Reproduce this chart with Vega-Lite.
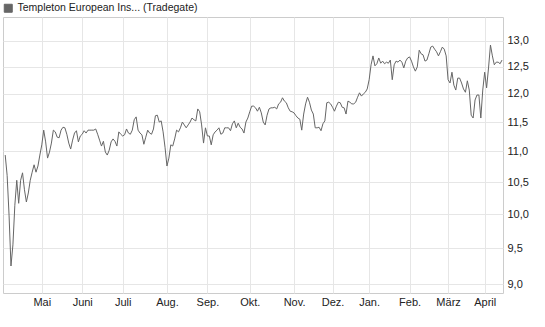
{
  "$schema": "https://vega.github.io/schema/vega-lite/v6.json",
  "autosize": {"type": "none"},
  "padding": {"left": 3, "top": 17, "right": 42, "bottom": 34},
  "width": 500,
  "height": 276,
  "background": "white",
  "config": {
    "font": "Liberation Sans",
    "view": {"stroke": "#cccccc", "strokeWidth": 1},
    "axis": {"domain": false, "ticks": false, "gridColor": "#e6e6e6", "gridWidth": 1, "labelFont": "Liberation Sans", "labelFontSize": 11, "labelColor": "#222222", "title": null}
  },
  "data": {"values": [
    {"d":"2025-04-02","v":10.94},{"d":"2025-04-03","v":10.61},{"d":"2025-04-04","v":9.99},{"d":"2025-04-07","v":9.25},{"d":"2025-04-08","v":9.55},{"d":"2025-04-09","v":10.14},{"d":"2025-04-10","v":10.53},{"d":"2025-04-11","v":10.17},{"d":"2025-04-14","v":10.53},{"d":"2025-04-15","v":10.65},{"d":"2025-04-16","v":10.38},{"d":"2025-04-17","v":10.19},{"d":"2025-04-22","v":10.33},{"d":"2025-04-23","v":10.53},{"d":"2025-04-24","v":10.66},{"d":"2025-04-25","v":10.78},{"d":"2025-04-28","v":10.66},{"d":"2025-04-29","v":10.76},{"d":"2025-04-30","v":10.94},
    {"d":"2025-05-02","v":11.11},{"d":"2025-05-05","v":11.36},{"d":"2025-05-06","v":11.16},{"d":"2025-05-07","v":10.89},{"d":"2025-05-08","v":10.99},{"d":"2025-05-09","v":11.14},{"d":"2025-05-12","v":11.36},{"d":"2025-05-13","v":11.33},{"d":"2025-05-14","v":11.24},{"d":"2025-05-15","v":11.23},{"d":"2025-05-16","v":11.36},{"d":"2025-05-19","v":11.41},{"d":"2025-05-20","v":11.40},{"d":"2025-05-21","v":11.29},{"d":"2025-05-22","v":11.14},{"d":"2025-05-23","v":11.04},{"d":"2025-05-26","v":11.19},{"d":"2025-05-27","v":11.31},{"d":"2025-05-28","v":11.35},{"d":"2025-05-29","v":11.16},{"d":"2025-05-30","v":11.26},
    {"d":"2025-06-02","v":11.29},{"d":"2025-06-03","v":11.35},{"d":"2025-06-04","v":11.31},{"d":"2025-06-05","v":11.36},{"d":"2025-06-06","v":11.36},{"d":"2025-06-09","v":11.36},{"d":"2025-06-10","v":11.36},{"d":"2025-06-11","v":11.38},{"d":"2025-06-12","v":11.29},{"d":"2025-06-13","v":11.19},{"d":"2025-06-16","v":11.09},{"d":"2025-06-17","v":11.17},{"d":"2025-06-18","v":10.99},{"d":"2025-06-19","v":10.94},{"d":"2025-06-20","v":11.02},{"d":"2025-06-23","v":11.16},{"d":"2025-06-24","v":11.21},{"d":"2025-06-25","v":11.17},{"d":"2025-06-26","v":11.09},{"d":"2025-06-27","v":11.33},{"d":"2025-06-30","v":11.29},
    {"d":"2025-07-01","v":11.26},{"d":"2025-07-02","v":11.28},{"d":"2025-07-03","v":11.38},{"d":"2025-07-04","v":11.31},{"d":"2025-07-07","v":11.29},{"d":"2025-07-08","v":11.36},{"d":"2025-07-09","v":11.54},{"d":"2025-07-10","v":11.59},{"d":"2025-07-11","v":11.36},{"d":"2025-07-14","v":11.31},{"d":"2025-07-15","v":11.28},{"d":"2025-07-16","v":11.12},{"d":"2025-07-17","v":11.24},{"d":"2025-07-18","v":11.36},{"d":"2025-07-21","v":11.31},{"d":"2025-07-22","v":11.29},{"d":"2025-07-23","v":11.38},{"d":"2025-07-24","v":11.61},{"d":"2025-07-25","v":11.62},{"d":"2025-07-28","v":11.50},{"d":"2025-07-29","v":11.52},{"d":"2025-07-30","v":11.33},{"d":"2025-07-31","v":11.07},
    {"d":"2025-08-01","v":10.76},{"d":"2025-08-04","v":10.89},{"d":"2025-08-05","v":11.11},{"d":"2025-08-06","v":11.09},{"d":"2025-08-07","v":11.21},{"d":"2025-08-08","v":11.36},{"d":"2025-08-11","v":11.33},{"d":"2025-08-12","v":11.40},{"d":"2025-08-13","v":11.50},{"d":"2025-08-14","v":11.45},{"d":"2025-08-15","v":11.40},{"d":"2025-08-18","v":11.45},{"d":"2025-08-19","v":11.50},{"d":"2025-08-20","v":11.57},{"d":"2025-08-21","v":11.54},{"d":"2025-08-22","v":11.52},{"d":"2025-08-25","v":11.73},{"d":"2025-08-26","v":11.68},{"d":"2025-08-27","v":11.45},{"d":"2025-08-28","v":11.14},{"d":"2025-08-29","v":11.40},
    {"d":"2025-09-01","v":11.26},{"d":"2025-09-02","v":11.26},{"d":"2025-09-03","v":11.11},{"d":"2025-09-04","v":11.28},{"d":"2025-09-05","v":11.33},{"d":"2025-09-08","v":11.36},{"d":"2025-09-09","v":11.40},{"d":"2025-09-10","v":11.29},{"d":"2025-09-11","v":11.31},{"d":"2025-09-12","v":11.40},{"d":"2025-09-15","v":11.40},{"d":"2025-09-16","v":11.40},{"d":"2025-09-17","v":11.35},{"d":"2025-09-18","v":11.47},{"d":"2025-09-19","v":11.52},{"d":"2025-09-22","v":11.40},{"d":"2025-09-23","v":11.48},{"d":"2025-09-24","v":11.41},{"d":"2025-09-25","v":11.38},{"d":"2025-09-26","v":11.31},{"d":"2025-09-29","v":11.50},{"d":"2025-09-30","v":11.57},
    {"d":"2025-10-01","v":11.68},{"d":"2025-10-02","v":11.78},{"d":"2025-10-03","v":11.78},{"d":"2025-10-06","v":11.75},{"d":"2025-10-07","v":11.69},{"d":"2025-10-08","v":11.76},{"d":"2025-10-09","v":11.66},{"d":"2025-10-10","v":11.50},{"d":"2025-10-13","v":11.45},{"d":"2025-10-14","v":11.62},{"d":"2025-10-15","v":11.73},{"d":"2025-10-16","v":11.75},{"d":"2025-10-17","v":11.75},{"d":"2025-10-20","v":11.76},{"d":"2025-10-21","v":11.73},{"d":"2025-10-22","v":11.82},{"d":"2025-10-23","v":11.85},{"d":"2025-10-24","v":11.93},{"d":"2025-10-27","v":11.87},{"d":"2025-10-28","v":11.84},{"d":"2025-10-29","v":11.75},{"d":"2025-10-30","v":11.69},{"d":"2025-10-31","v":11.68},
    {"d":"2025-11-03","v":11.66},{"d":"2025-11-04","v":11.61},{"d":"2025-11-05","v":11.57},{"d":"2025-11-06","v":11.55},{"d":"2025-11-07","v":11.36},{"d":"2025-11-10","v":11.64},{"d":"2025-11-11","v":11.82},{"d":"2025-11-12","v":11.94},{"d":"2025-11-13","v":11.85},{"d":"2025-11-14","v":11.71},{"d":"2025-11-17","v":11.64},{"d":"2025-11-18","v":11.40},{"d":"2025-11-19","v":11.40},{"d":"2025-11-20","v":11.41},{"d":"2025-11-21","v":11.35},{"d":"2025-11-24","v":11.47},{"d":"2025-11-25","v":11.52},{"d":"2025-11-26","v":11.84},{"d":"2025-11-27","v":11.85},{"d":"2025-11-28","v":11.82},
    {"d":"2025-12-01","v":11.76},{"d":"2025-12-02","v":11.69},{"d":"2025-12-03","v":11.78},{"d":"2025-12-04","v":11.85},{"d":"2025-12-05","v":11.84},{"d":"2025-12-08","v":11.76},{"d":"2025-12-09","v":11.75},{"d":"2025-12-10","v":11.64},{"d":"2025-12-11","v":11.87},{"d":"2025-12-12","v":11.85},{"d":"2025-12-15","v":11.82},{"d":"2025-12-16","v":11.82},{"d":"2025-12-17","v":11.85},{"d":"2025-12-18","v":11.94},{"d":"2025-12-19","v":12.02},{"d":"2025-12-22","v":11.96},{"d":"2025-12-23","v":12.00},{"d":"2025-12-29","v":12.03},{"d":"2025-12-30","v":12.09},
    {"d":"2026-01-02","v":12.26},{"d":"2026-01-05","v":12.54},{"d":"2026-01-06","v":12.71},{"d":"2026-01-07","v":12.52},{"d":"2026-01-08","v":12.56},{"d":"2026-01-09","v":12.67},{"d":"2026-01-12","v":12.57},{"d":"2026-01-13","v":12.61},{"d":"2026-01-14","v":12.56},{"d":"2026-01-15","v":12.59},{"d":"2026-01-16","v":12.57},{"d":"2026-01-19","v":12.63},{"d":"2026-01-20","v":12.26},{"d":"2026-01-21","v":12.54},{"d":"2026-01-22","v":12.61},{"d":"2026-01-23","v":12.59},{"d":"2026-01-26","v":12.63},{"d":"2026-01-27","v":12.59},{"d":"2026-01-28","v":12.48},{"d":"2026-01-29","v":12.61},{"d":"2026-01-30","v":12.67},
    {"d":"2026-02-02","v":12.69},{"d":"2026-02-03","v":12.61},{"d":"2026-02-04","v":12.50},{"d":"2026-02-05","v":12.42},{"d":"2026-02-06","v":12.50},{"d":"2026-02-09","v":12.82},{"d":"2026-02-10","v":12.75},{"d":"2026-02-11","v":12.73},{"d":"2026-02-12","v":12.61},{"d":"2026-02-13","v":12.63},{"d":"2026-02-16","v":12.75},{"d":"2026-02-17","v":12.88},{"d":"2026-02-18","v":12.90},{"d":"2026-02-19","v":12.84},{"d":"2026-02-20","v":12.79},{"d":"2026-02-23","v":12.71},{"d":"2026-02-24","v":12.79},{"d":"2026-02-25","v":12.88},{"d":"2026-02-26","v":12.84},{"d":"2026-02-27","v":12.71},
    {"d":"2026-03-02","v":12.26},{"d":"2026-03-03","v":12.20},{"d":"2026-03-04","v":12.40},{"d":"2026-03-05","v":12.16},{"d":"2026-03-06","v":12.07},{"d":"2026-03-09","v":12.29},{"d":"2026-03-10","v":12.29},{"d":"2026-03-11","v":12.20},{"d":"2026-03-12","v":12.09},{"d":"2026-03-13","v":12.03},{"d":"2026-03-16","v":12.24},{"d":"2026-03-17","v":12.07},{"d":"2026-03-18","v":11.62},{"d":"2026-03-19","v":11.57},{"d":"2026-03-20","v":11.89},{"d":"2026-03-23","v":11.98},{"d":"2026-03-24","v":11.98},{"d":"2026-03-25","v":11.57},{"d":"2026-03-26","v":12.07},
    {"d":"2026-04-01","v":12.40},{"d":"2026-04-02","v":12.11},{"d":"2026-04-07","v":12.48},{"d":"2026-04-08","v":12.92},{"d":"2026-04-09","v":12.71},{"d":"2026-04-10","v":12.54},{"d":"2026-04-13","v":12.59},{"d":"2026-04-14","v":12.59},{"d":"2026-04-15","v":12.56},{"d":"2026-04-16","v":12.63}
  ]},
  "mark": {"type": "line", "strokeWidth": 1, "interpolate": "linear"},
  "encoding": {
    "x": {
      "field": "d", "type": "ordinal",
      "scale": {"type": "point", "padding": 0.83, "align": 0.69},
      "axis": {
        "values": ["2025-05-02","2025-06-02","2025-07-01","2025-08-01","2025-09-01","2025-10-01","2025-11-03","2025-12-01","2026-01-02","2026-02-02","2026-03-02","2026-04-01"],
        "labelExpr": "['Jan.','Feb.','März','April','Mai','Juni','Juli','Aug.','Sep.','Okt.','Nov.','Dez.'][toNumber(substring(datum.value,5,7))-1]",
        "labelAngle": 0, "labelPadding": 3, "grid": true
      }
    },
    "y": {
      "field": "v", "type": "quantitative",
      "scale": {"type": "log", "domain": [8.88, 13.48], "nice": false},
      "axis": {
        "orient": "right",
        "values": [9, 9.5, 10, 10.5, 11, 11.5, 12, 12.5, 13],
        "labelExpr": "replace(format(datum.value, '.1f'), '.', ',')",
        "labelPadding": 4, "labelBaseline": "middle"
      }
    },
    "color": {
      "datum": "Templeton European Ins... (Tradegate)",
      "scale": {"range": ["#666666"]},
      "legend": {
        "orient": "none", "legendX": 0, "legendY": -14, "title": null,
        "symbolType": "square", "symbolSize": 64, "symbolFillColor": "#666666", "symbolStrokeColor": "#222222", "symbolStrokeWidth": 1,
        "labelFont": "Liberation Sans", "labelFontSize": 10.5, "labelColor": "#222222", "labelOffset": 4, "labelLimit": 400
      }
    }
  }
}
